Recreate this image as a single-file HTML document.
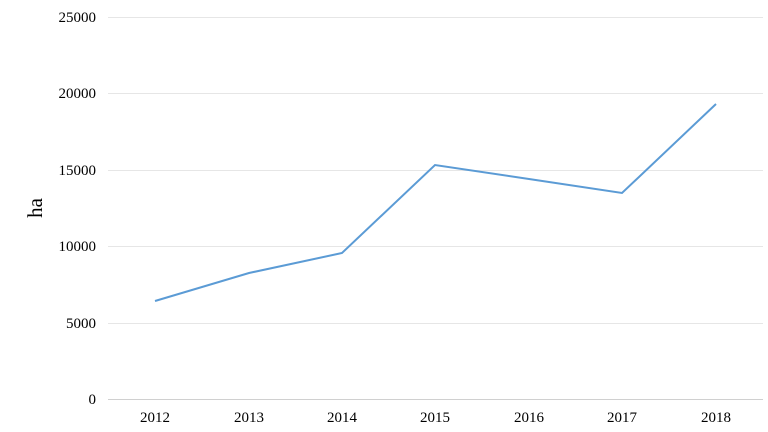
<!DOCTYPE html>
<html><head><style>body{margin:0;background:#fff}svg{display:block}</style></head><body>
<svg width="768" height="432" xmlns="http://www.w3.org/2000/svg" font-family="Liberation Serif, serif">
<g stroke="#e6e6e6" stroke-width="1">
<line x1="108" x2="763" y1="17.5" y2="17.5"/>
<line x1="108" x2="763" y1="93.5" y2="93.5"/>
<line x1="108" x2="763" y1="170.5" y2="170.5"/>
<line x1="108" x2="763" y1="246.5" y2="246.5"/>
<line x1="108" x2="763" y1="323.5" y2="323.5"/>
</g>
<line x1="108" x2="763" y1="399.5" y2="399.5" stroke="#d0d0d0"/>
<g font-size="15" fill="#000" text-anchor="end">
<text x="96" y="22">25000</text>
<text x="96" y="98">20000</text>
<text x="96" y="175">15000</text>
<text x="96" y="251">10000</text>
<text x="96" y="328">5000</text>
<text x="96" y="404">0</text>
</g>
<g font-size="15" fill="#000" text-anchor="middle">
<text x="155" y="422">2012</text>
<text x="249" y="422">2013</text>
<text x="342" y="422">2014</text>
<text x="435" y="422">2015</text>
<text x="529" y="422">2016</text>
<text x="622" y="422">2017</text>
<text x="716" y="422">2018</text>
</g>
<text x="35" y="208" font-size="21" text-anchor="middle" transform="rotate(-90 35 208)" dy="7">ha</text>
<polyline fill="none" stroke="#5b9bd5" stroke-width="2" points="155,301 249,273 342,253 435,165 529,179 622,193 716,104"/>
</svg>
</body></html>
